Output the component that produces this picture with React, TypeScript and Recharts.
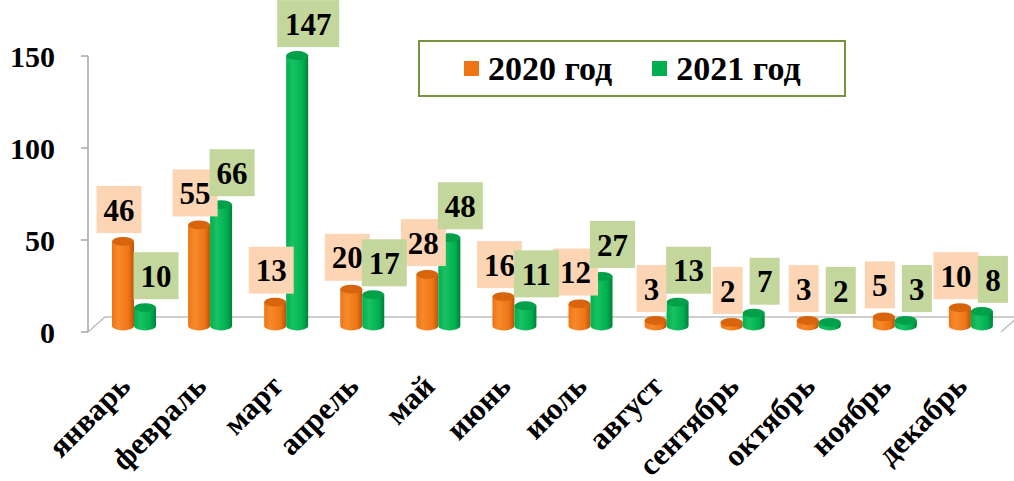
import React from "react";
import {
  BarChart,
  Bar,
  XAxis,
  YAxis,
  Legend,
  LabelList,
} from "recharts";

// data
const months = [
  "январь",
  "февраль",
  "март",
  "апрель",
  "май",
  "июнь",
  "июль",
  "август",
  "сентябрь",
  "октябрь",
  "ноябрь",
  "декабрь",
];
const values2020 = [46, 55, 13, 20, 28, 16, 12, 3, 2, 3, 5, 10];
const values2021 = [10, 66, 147, 17, 48, 11, 27, 13, 7, 2, 3, 8];
const yTicks = [0, 50, 100, 150];
const seriesNames = ["2020 год", "2021 год"];

const data = months.map((m, i) => ({
  month: m,
  y2020: values2020[i],
  y2021: values2021[i],
}));

// layout
const W = 1014;
const H = 481;
const LEFT = 88;
const RIGHT = 1001;
const TOP = 56;
const BOTTOM = 332;
const DEPTH_X = 17;
const DEPTH_Y = 15;
const SHIFT_X = 8; // bars sit in the middle of the 3d floor
const SHIFT_Y = 6;

const FONT = "Times New Roman, Liberation Serif, DejaVu Serif, serif";
const AXIS_GREY = "#a6a6a6";

const palette = {
  orange: { id: "gOrange", light: "#f7892a", mid: "#ef7514", dark: "#b9540a", top: "#d8650e" },
  green: { id: "gGreen", light: "#19c263", mid: "#00b050", dark: "#00803a", top: "#02a149" },
};
const labelBg = { orange: "#fcd5b5", green: "#c3d69b" };

const cylinder = (p: typeof palette.orange) => (props: any) => {
  const { x, y, width, height } = props;
  if (width == null || height == null || width <= 0) return null;
  const bx = x + SHIFT_X;
  const top = y - SHIFT_Y;
  const bottom = y + height - SHIFT_Y;
  const rx = width / 2;
  const ry = width * 0.2;
  const cx = bx + rx;
  return (
    <g>
      <path
        d={`M${bx},${top} L${bx},${bottom} A${rx},${ry} 0 0 0 ${bx + width},${bottom} L${bx + width},${top} Z`}
        fill={`url(#${p.id})`}
      />
      <ellipse cx={cx} cy={top} rx={rx} ry={ry} fill={p.top} />
    </g>
  );
};

const valueLabel = (bg: string, dx: number) => (props: any) => {
  const { x, y, width, value } = props;
  if (x == null || y == null) return null;
  const s = String(value);
  const w = s.length === 1 ? 30 : s.length === 2 ? 45 : 62;
  const h = 47;
  const cx = x + width / 2 + SHIFT_X + dx;
  const boxBottom = y - SHIFT_Y - width * 0.2 - 4;
  return (
    <g>
      <rect x={cx - w / 2} y={boxBottom - h} width={w} height={h} fill={bg} />
      <text
        x={cx}
        y={boxBottom - h / 2}
        dy="0.36em"
        textAnchor="middle"
        fontFamily={FONT}
        fontWeight="bold"
        fontSize={31}
        fill="#000"
      >
        {s}
      </text>
    </g>
  );
};

const MonthTick = (props: any) => {
  const { x, y, payload } = props;
  return (
    <g transform={`translate(${x + 6},${y + 56})`}>
      <text
        textAnchor="end"
        transform="rotate(-45)"
        fontFamily={FONT}
        fontWeight="bold"
        fontSize={31}
        fill="#000"
      >
        {payload.value}
      </text>
    </g>
  );
};

const LegendBox = () => (
  <div
    style={{
      boxSizing: "border-box",
      width: 428,
      height: 57,
      border: "2px solid #77933c",
      background: "#fff",
      display: "flex",
      alignItems: "center",
      fontFamily: FONT,
      fontWeight: "bold",
      fontSize: 34,
      color: "#000",
    }}
  >
    <span style={{ width: 15, height: 15, background: palette.orange.mid, marginLeft: 44, marginRight: 9 }} />
    <span>{seriesNames[0]}</span>
    <span style={{ width: 15, height: 15, background: palette.green.mid, marginLeft: 40, marginRight: 9 }} />
    <span>{seriesNames[1]}</span>
  </div>
);

const gridTicks = months.map((_, i) => i).concat(months.length);

export default function App() {
  return (
    <div style={{ position: "relative", width: W, height: H, background: "#fff" }}>
      <style>{`body{margin:0}`}</style>
      <svg width={W} height={H} style={{ position: "absolute", left: 0, top: 0 }}>
        <defs>
          {[palette.orange, palette.green].map((p) => (
            <linearGradient key={p.id} id={p.id} x1="0" y1="0" x2="1" y2="0">
              <stop offset="0%" stopColor={p.mid} />
              <stop offset="30%" stopColor={p.light} />
              <stop offset="75%" stopColor={p.mid} />
              <stop offset="100%" stopColor={p.dark} />
            </linearGradient>
          ))}
        </defs>
        <polyline
          points={`${LEFT},${BOTTOM} ${LEFT + DEPTH_X},${BOTTOM - DEPTH_Y} ${RIGHT + DEPTH_X},${BOTTOM - DEPTH_Y} ${RIGHT},${BOTTOM}`}
          fill="none"
          stroke="#bfbfbf"
          strokeWidth={1.5}
        />
      </svg>
      <div style={{ position: "absolute", left: 0, top: 0 }}>
        <BarChart
          width={W}
          height={H}
          data={data}
          margin={{ top: TOP, right: W - RIGHT, bottom: 0, left: 0 }}
          barGap={0}
          barSize={22}
        >
          <XAxis
            xAxisId="grid"
            type="number"
            domain={[0, months.length]}
            allowDataOverflow
            ticks={gridTicks}
            tick={false}
            tickSize={11}
            tickLine={{ stroke: AXIS_GREY, strokeWidth: 1.5 }}
            axisLine={{ stroke: AXIS_GREY, strokeWidth: 1.5 }}
            height={0}
          />
          <XAxis
            xAxisId="cat"
            dataKey="month"
            interval={0}
            axisLine={false}
            tickLine={false}
            tickSize={0}
            tickMargin={0}
            tick={<MonthTick />}
            height={H - BOTTOM}
          />
          <YAxis
            domain={[0, 150]}
            ticks={yTicks}
            width={LEFT}
            tickSize={7}
            tickMargin={26}
            axisLine={{ stroke: AXIS_GREY, strokeWidth: 1.5 }}
            tickLine={{ stroke: AXIS_GREY, strokeWidth: 1.5 }}
            tick={{ fill: "#000", fontFamily: FONT, fontWeight: "bold", fontSize: 30 }}
          />
          <Legend
            layout="vertical"
            align="center"
            verticalAlign="middle"
            content={<LegendBox />}
            wrapperStyle={{ left: 418, top: 40, width: 428, height: 57 }}
          />
          <Bar
            xAxisId="cat"
            dataKey="y2020"
            name={seriesNames[0]}
            fill={palette.orange.mid}
            shape={cylinder(palette.orange)}
            isAnimationActive={false}
          >
            <LabelList dataKey="y2020" content={valueLabel(labelBg.orange, -4)} />
          </Bar>
          <Bar
            xAxisId="cat"
            dataKey="y2021"
            name={seriesNames[1]}
            fill={palette.green.mid}
            shape={cylinder(palette.green)}
            isAnimationActive={false}
          >
            <LabelList dataKey="y2021" content={valueLabel(labelBg.green, 11)} />
          </Bar>
        </BarChart>
      </div>
    </div>
  );
}
